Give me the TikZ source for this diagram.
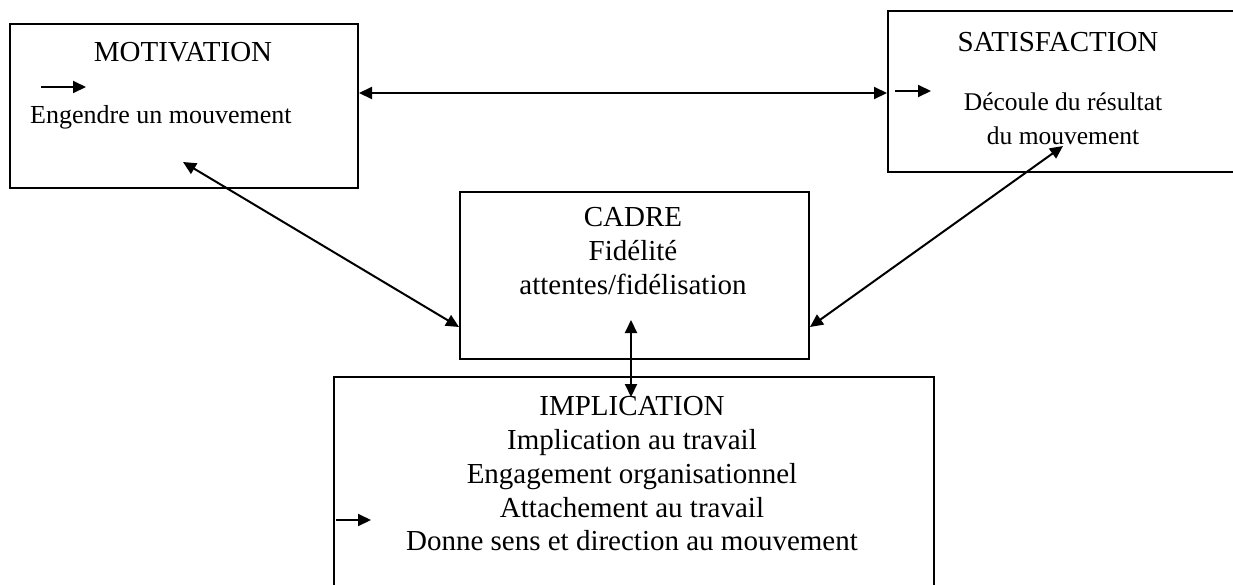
\documentclass[tikz,border=0pt]{standalone}
\usepackage{fontspec}
\setmainfont{Liberation Serif}
\usetikzlibrary{arrows.meta}
\begin{document}
\begin{tikzpicture}[x=1pt,y=-1pt,
  box/.style={draw, line width=2pt, inner sep=0pt, anchor=north west},
  txt/.style={inner sep=0pt, align=center},
  big/.style={font=\fontsize{29}{34}\selectfont},
  small/.style={font=\fontsize{26}{34}\selectfont},
  link/.style={line width=2pt, {Triangle[length=13pt,width=12pt]}-{Triangle[length=13pt,width=12pt]}},
  pointer/.style={line width=2pt, -{Triangle[length=13pt,width=12pt]}}]
\useasboundingbox (0,0) rectangle (1233,584);
% boxes
\node[box, minimum width=348pt, minimum height=164pt] (mot) at (9,23) {};
\node[box, minimum width=360pt, minimum height=161pt] (sat) at (887,10) {};
\node[box, minimum width=349pt, minimum height=167pt] (cadre) at (459,191) {};
\node[box, minimum width=600pt, minimum height=220pt] (impl) at (333,376) {};
% texts
\node[txt, big] (motT) at (183,52) {MOTIVATION};
\node[txt, small, anchor=west] (motD) at (30,117) {Engendre un mouvement};
\node[txt, big] (satT) at (1058,42) {SATISFACTION};
\node[txt, font=\fontsize{25.5}{34}\selectfont] (satD) at (1063,119) {Découle du résultat\\du mouvement};
\node[txt, big] (cadT) at (633,251) {CADRE\\Fidélité\\attentes/fidélisation};
\node[txt, font=\fontsize{29}{33.75}\selectfont] (impT) at (632,474) {IMPLICATION\\Implication au travail\\Engagement organisationnel\\Attachement au travail\\Donne sens et direction au mouvement};
% small pointers
\coordinate (p1a) at (41,87); \coordinate (p1b) at (86,87);
\coordinate (p2a) at (895,91); \coordinate (p2b) at (931,91);
\coordinate (p3a) at (336,520); \coordinate (p3b) at (371,520);
\draw[pointer] (p1a) -- (p1b);
\draw[pointer] (p2a) -- (p2b);
\draw[pointer] (p3a) -- (p3b);
% connectors
\draw[link] (mot.east |- 0,93) -- (sat.west |- 0,93);
\coordinate (m1) at (183,162);
\coordinate (s1) at (1063,146);
\draw[link] (m1) -- (cadre.west |- 0,327);
\draw[link] (s1) -- (cadre.east |- 0,327);
\coordinate (c1) at (631,320);
\coordinate (i1) at (631,397);
\draw[link] (c1) -- (i1);
\end{tikzpicture}
\end{document}
